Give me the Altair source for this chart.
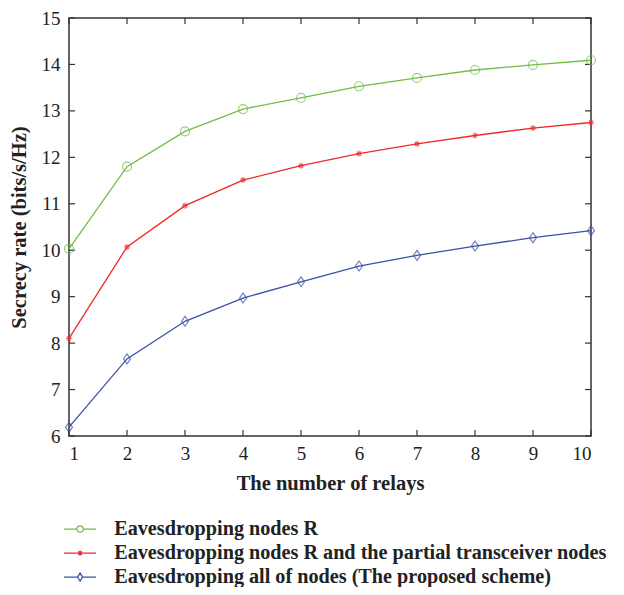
import altair as alt
import pandas as pd

relays = [1, 2, 3, 4, 5, 6, 7, 8, 9, 10]
series_names = [
    "Eavesdropping nodes R",
    "Eavesdropping nodes R and the partial transceiver nodes",
    "Eavesdropping all of nodes (The proposed scheme)",
]
green_vals = [10.03, 11.80, 12.56, 13.04, 13.28, 13.53, 13.71, 13.88, 13.99, 14.09]
red_vals = [8.10, 10.07, 10.96, 11.51, 11.82, 12.08, 12.29, 12.47, 12.63, 12.75]
blue_vals = [6.19, 7.66, 8.47, 8.97, 9.32, 9.66, 9.89, 10.09, 10.27, 10.42]
x_ticks = [1, 2, 3, 4, 5, 6, 7, 8, 9, 10]
y_ticks = [6, 7, 8, 9, 10, 11, 12, 13, 14, 15]

colors = ["#6fbe45", "#ee2a2a", "#3a51a6"]

rows = []
for name, vals in zip(series_names, [green_vals, red_vals, blue_vals]):
    for x, v in zip(relays, vals):
        rows.append({"relays": x, "rate": v, "series": name})
df = pd.DataFrame(rows)

W, H = 522, 418
FONT = "Liberation Serif"

xscale = alt.Scale(domain=[1, 10], nice=False, zero=False)
yscale = alt.Scale(domain=[6, 15], nice=False, zero=False)

plot_shapes = [
    "M-0.9,0A0.9,0.9 0 1,0 0.9,0A0.9,0.9 0 1,0 -0.9,0",
    "M0,-0.6L0,0.6M-0.6,0L0.6,0M-0.42,-0.42L0.42,0.42M-0.42,0.42L0.42,-0.42M-0.25,0L0,-0.25L0.25,0L0,0.25Z",
    "M0,-1L0.7,0L0,1L-0.7,0Z",
]
legend_shapes = [
    "M-3.2,0H-0.65M0.65,0H3.2M-0.65,0A0.65,0.65 0 1,0 0.65,0A0.65,0.65 0 1,0 -0.65,0",
    "M-3.2,0H3.2M0,-0.5L0,0.5M-0.5,0L0.5,0M-0.35,-0.35L0.35,0.35M-0.35,0.35L0.35,-0.35",
    "M-3.2,0H-0.5M0.5,0H3.2M0,-0.8L0.5,0L0,0.8L-0.5,0Z",
]

color_scale = alt.Scale(domain=series_names, range=colors)

base = alt.Chart(df)

lines = base.mark_line(strokeWidth=1.3).encode(
    x=alt.X("relays:Q", scale=xscale,
            axis=alt.Axis(values=x_ticks, title="The number of relays", grid=False,
                          domain=False, ticks=False, labelFont=FONT, labelFontSize=19,
                          labelColor="#222", labelPadding=8, titleFont=FONT,
                          titleFontSize=20.5, titleFontWeight="bold", titleColor="#222",
                          titlePadding=10, format="d")),
    y=alt.Y("rate:Q", scale=yscale,
            axis=alt.Axis(values=y_ticks, title="Secrecy rate (bits/s/Hz)", grid=False,
                          domain=False, ticks=False, labelFont=FONT, labelFontSize=19,
                          labelColor="#222", labelPadding=9, titleFont=FONT,
                          titleFontSize=20.5, titleFontWeight="bold", titleColor="#222",
                          titlePadding=12, format="d")),
    color=alt.Color("series:N", scale=color_scale, legend=None),
    detail="series:N",
)

points = base.mark_point(filled=False, strokeWidth=1.2, size=100).encode(
    x=alt.X("relays:Q", scale=xscale),
    y=alt.Y("rate:Q", scale=yscale),
    color=alt.Color("series:N", scale=color_scale, legend=None),
    shape=alt.Shape("series:N", scale=alt.Scale(domain=series_names, range=plot_shapes),
                    legend=None),
)

legend_props = dict(title=None, orient="none", legendX=1, legendY=501,
                    direction="vertical", labelFont=FONT, labelFontSize=20.2,
                    labelFontWeight="bold", labelColor="#222", labelOffset=24,
                    rowPadding=3, symbolStrokeWidth=1.3, symbolOpacity=1,
                    labelLimit=700, padding=0)

legend_layer = base.mark_point(filled=False, opacity=0, size=100).encode(
    x=alt.X("relays:Q", scale=xscale),
    y=alt.Y("rate:Q", scale=yscale),
    color=alt.Color("series:N", scale=alt.Scale(domain=series_names, range=colors),
                    legend=alt.Legend(**legend_props)),
    shape=alt.Shape("series:N", scale=alt.Scale(domain=series_names, range=legend_shapes),
                    legend=alt.Legend(**legend_props)),
)

xt = pd.DataFrame({"t": x_ticks})
yt = pd.DataFrame({"t": y_ticks})
TL = 6
tick_style = dict(color="#333", strokeWidth=1.2)
xt_bottom = alt.Chart(xt).mark_rule(**tick_style).encode(
    x=alt.X("t:Q", scale=xscale), y=alt.value(H), y2=alt.value(H - TL))
xt_top = alt.Chart(xt).mark_rule(**tick_style).encode(
    x=alt.X("t:Q", scale=xscale), y=alt.value(0), y2=alt.value(TL))
yt_left = alt.Chart(yt).mark_rule(**tick_style).encode(
    y=alt.Y("t:Q", scale=yscale), x=alt.value(0), x2=alt.value(TL))
yt_right = alt.Chart(yt).mark_rule(**tick_style).encode(
    y=alt.Y("t:Q", scale=yscale), x=alt.value(W), x2=alt.value(W - TL))

chart = alt.layer(
    xt_bottom, xt_top, yt_left, yt_right, lines, points, legend_layer
).resolve_scale(
    color="independent", shape="independent"
).properties(
    width=W, height=H,
    autosize=alt.AutoSizeParams(type="none"),
    padding={"left": 61, "top": 10, "right": 25, "bottom": 151},
).configure_view(
    stroke="#333", strokeWidth=1.5
)

chart.save("out.html", embed_options={"renderer": "svg", "actions": False})
